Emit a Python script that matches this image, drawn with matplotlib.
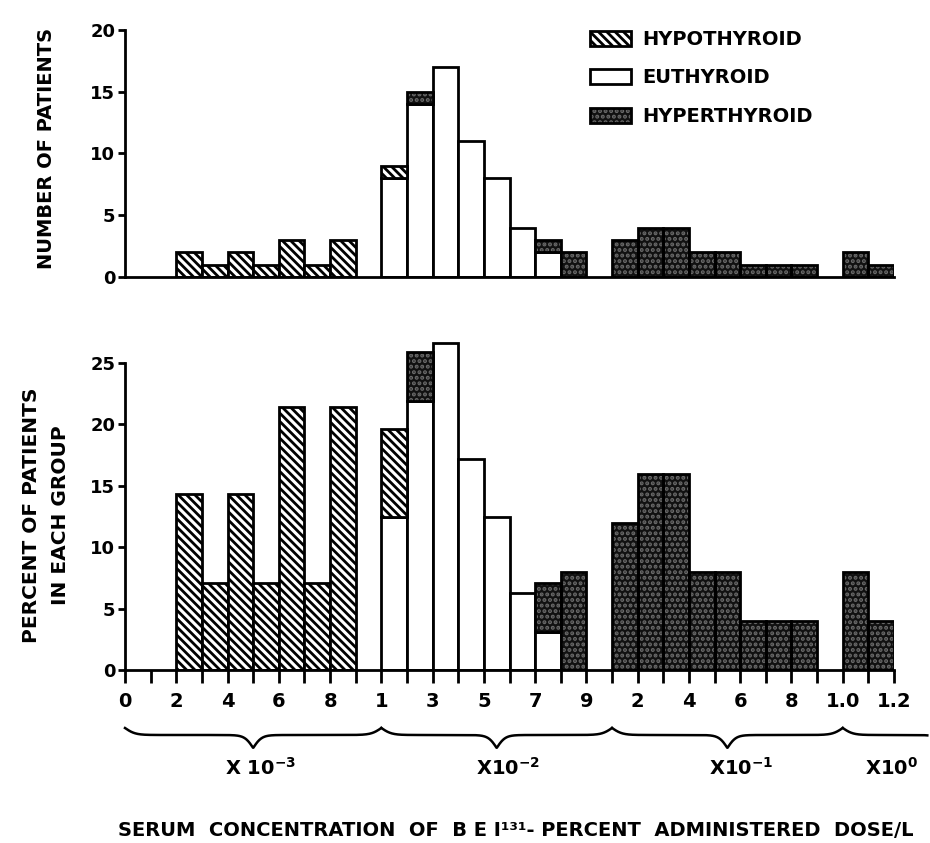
import numpy as np
import matplotlib
matplotlib.use("Agg")
import matplotlib.pyplot as plt
from matplotlib.patches import Patch
from matplotlib import transforms

# 30 bins between the tick positions 0..30 (x10^-3, x10^-2, x10^-1, x10^0 decades)
hypo_count = [0, 0, 2, 1, 2, 1, 3, 1, 3, 0,
              1, 0, 0, 0, 0, 0, 0, 0, 0, 0,
              0, 0, 0, 0, 0, 0, 0, 0, 0, 0]
euth_count = [0, 0, 0, 0, 0, 0, 0, 0, 0, 0,
              8, 14, 17, 11, 8, 4, 2, 0, 0, 0,
              0, 0, 0, 0, 0, 0, 0, 0, 0, 0]
hyper_count = [0, 0, 0, 0, 0, 0, 0, 0, 0, 0,
               0, 1, 0, 0, 0, 0, 1, 2, 0, 3,
               4, 4, 2, 2, 1, 1, 1, 0, 2, 1]

hypo_pct = [0, 0, 14.3, 7.1, 14.3, 7.1, 21.4, 7.1, 21.4, 0,
            7.1, 0, 0, 0, 0, 0, 0, 0, 0, 0,
            0, 0, 0, 0, 0, 0, 0, 0, 0, 0]
euth_pct = [0, 0, 0, 0, 0, 0, 0, 0, 0, 0,
            12.5, 21.9, 26.6, 17.2, 12.5, 6.3, 3.1, 0, 0, 0,
            0, 0, 0, 0, 0, 0, 0, 0, 0, 0]
hyper_pct = [0, 0, 0, 0, 0, 0, 0, 0, 0, 0,
             0, 4, 0, 0, 0, 0, 4, 8, 0, 12,
             16, 16, 8, 8, 4, 4, 4, 0, 8, 4]

xtick_labels = ["0", "", "2", "", "4", "", "6", "", "8", "",
                "1", "", "3", "", "5", "", "7", "", "9", "",
                "2", "", "4", "", "6", "", "8", "", "1.0", "", "1.2"]
decade_labels = [r"X 10$^{\mathbf{-3}}$", r"X10$^{\mathbf{-2}}$",
                 r"X10$^{\mathbf{-1}}$", r"X10$^{\mathbf{0}}$"]
decade_spans = [(0, 10), (10, 19), (19, 28), (28, 36)]
group_names = ["HYPOTHYROID", "EUTHYROID", "HYPERTHYROID"]

plt.rcParams['font.family'] = ['DejaVu Sans']
plt.rcParams['font.weight'] = 'bold'
plt.rcParams['mathtext.default'] = 'bf'
plt.rcParams['hatch.linewidth'] = 2.0

DARK = '#111111'
SPECK = '#6a6a6a'
W, H = 930, 843


def draw_bars(ax, heights, bottoms, kind):
    heights = np.array(heights, dtype=float)
    bottoms = np.array(bottoms, dtype=float)
    idx = np.nonzero(heights)[0]
    h = heights[idx]
    b = bottoms[idx]
    if kind == 'hypo':
        ax.bar(idx, h, width=1, bottom=b, align='edge', facecolor='white',
               edgecolor='black', hatch='\\\\\\\\', linewidth=2)
    elif kind == 'euth':
        ax.bar(idx, h, width=1, bottom=b, align='edge', facecolor='white',
               edgecolor='black', linewidth=2)
    else:
        ax.bar(idx, h, width=1, bottom=b, align='edge', facecolor=DARK,
               edgecolor=DARK, linewidth=0)
        ax.bar(idx, h, width=1, bottom=b, align='edge', facecolor='none',
               edgecolor=SPECK, hatch='...', linewidth=0)
        ax.bar(idx, h, width=1, bottom=b, align='edge', facecolor='none',
               edgecolor='black', linewidth=2)


def stacked(ax, hypo, euth, hyper):
    euth = np.array(euth, dtype=float)
    hypo = np.array(hypo, dtype=float)
    draw_bars(ax, euth, np.zeros(30), 'euth')
    draw_bars(ax, hypo, euth, 'hypo')
    draw_bars(ax, hyper, euth + hypo, 'hyper')


def style_axis(ax, top):
    for s in ['top', 'right']:
        ax.spines[s].set_visible(False)
    for s in ['left', 'bottom']:
        ax.spines[s].set_linewidth(2)
    ax.spines['left'].set_bounds(0, top)
    ax.tick_params(axis='y', direction='out', length=5, width=2,
                   labelsize=13, pad=2)


fig = plt.figure(figsize=(W / 100, H / 100), dpi=100)
ax1 = fig.add_axes([125 / W, 1 - 277 / H, 769 / W, 247 / H])
ax2 = fig.add_axes([125 / W, 1 - 670 / H, 769 / W, 337.7 / H])

# top: number of patients
stacked(ax1, hypo_count, euth_count, hyper_count)
style_axis(ax1, 20)
ax1.set_yticks([0, 5, 10, 15, 20])
ax1.tick_params(axis='x', length=0, labelbottom=False)

# bottom: percent of each group
stacked(ax2, hypo_pct, euth_pct, hyper_pct)
style_axis(ax2, 25)
ax2.set_yticks([0, 5, 10, 15, 20, 25])
ax2.set_xticks(range(31))
ax2.set_xticklabels(xtick_labels)
ax2.tick_params(axis='x', direction='out', length=9, width=2,
                labelsize=14, pad=7)

# curly braces under the decades
trans = transforms.blended_transform_factory(ax2.transData, fig.transFigure)
for (x0, x1) in decade_spans:
    t = np.linspace(x0, x1, 600)
    half = (x1 - x0) / 2
    d = np.minimum(t - x0, x1 - t)
    s1 = 1 / (1 + np.exp(-5 * d))
    s2 = 1 / (1 + np.exp(-6 * (d - half)))
    ypx = 735 - 2 * (1 - s1) * 7 + 2 * s2 * 13
    keep = t <= 31.3
    ax2.plot(t[keep], 1 - ypx[keep] / H, color='black', lw=1.8,
             transform=trans, clip_on=False)

for xc, lab in zip([261, 508, 741, 892], decade_labels):
    fig.text(xc / W, 1 - 768 / H, lab, ha='center', va='center', fontsize=14)

ax1.set_xlim(0, 30)
ax1.set_ylim(0, 20)
ax2.set_xlim(0, 30)
ax2.set_ylim(0, 27.5)

fig.text(46 / W, 1 - 148 / H, "NUMBER OF PATIENTS", rotation=90,
         ha='center', va='center', fontsize=14)
fig.text(46 / W, 1 - 515 / H, "PERCENT OF PATIENTS\nIN EACH GROUP",
         rotation=90, ha='center', va='center', fontsize=14.5,
         multialignment='center', linespacing=1.65)

fig.text(118 / W, 1 - 831 / H,
         "SERUM  CONCENTRATION  OF  B E I¹³¹- PERCENT  ADMINISTERED  DOSE/L",
         ha='left', va='center', fontsize=14)

h_hypo = Patch(facecolor='white', edgecolor='black', hatch='\\\\\\\\', linewidth=2)
h_euth = Patch(facecolor='white', edgecolor='black', linewidth=2)
h_hyper = (Patch(facecolor=DARK, edgecolor=DARK, linewidth=0),
           Patch(facecolor='none', edgecolor=SPECK, hatch='...', linewidth=0),
           Patch(facecolor='none', edgecolor='black', linewidth=2))
fig.legend([h_hypo, h_euth, h_hyper], group_names, loc='upper left',
           bbox_to_anchor=(590 / W, 1 - 30 / H), frameon=False, fontsize=14,
           handlelength=2.1, handleheight=0.8, handletextpad=0.6,
           labelspacing=1.0, borderpad=0, borderaxespad=0)

fig.savefig("out.png", dpi=100)
